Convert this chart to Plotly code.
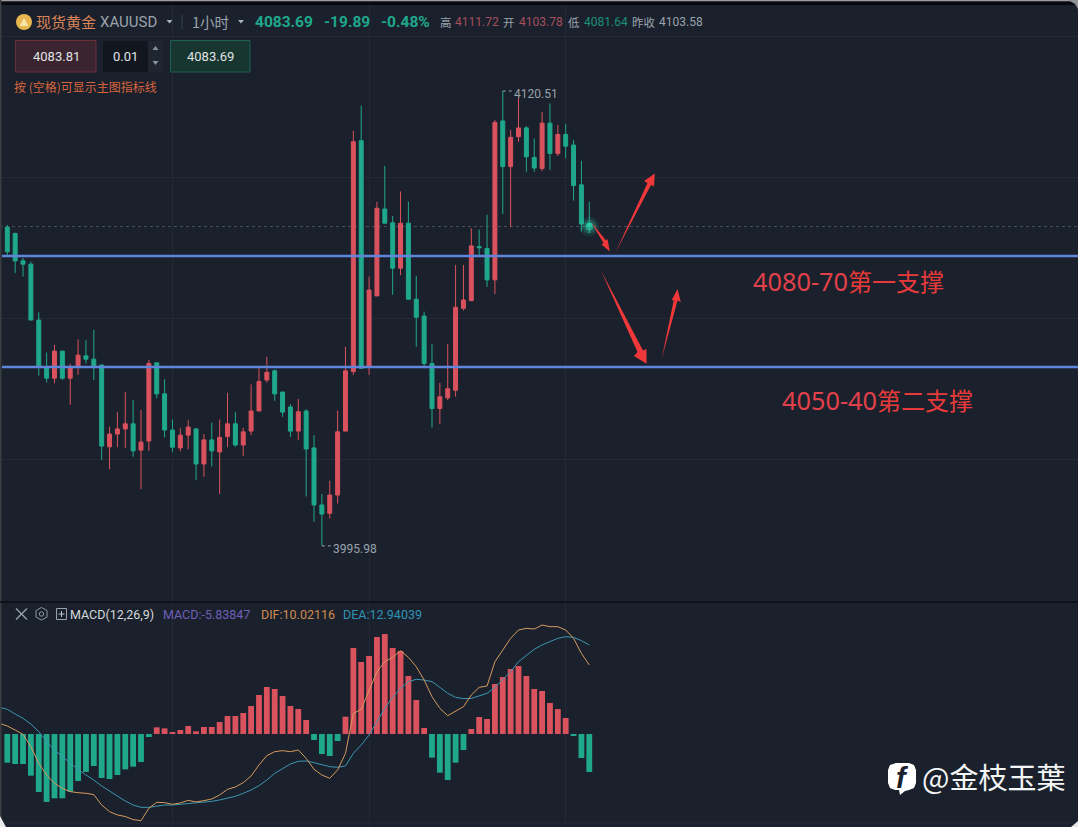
import plotly.graph_objects as go

W, H = 1078, 827
BG = "#1a212c"
RED = "#d9525e"
GREEN = "#1fa88c"
ORANGE = "#d79a5e"
BLUE = "#3c96b0"
GRID = "#232a36"
CJK = "Noto Sans CJK SC"
ROB = "Roboto, 'Noto Sans CJK SC'"

opens = [4083.2,4081.5,4074.0,4073.1,4057.8,4044.9,4041.9,4049.3,4041.9,4045.0,4048.0,4047.1,4045.5,4023.1,4026.6,4028.0,4029.4,4022.2,4024.7,4046.1,
4037.6,4027.7,4022.8,4026.3,4028.0,4018.4,4025.0,4021.7,4025.9,4029.4,4023.6,4027.4,4032.9,4041.4,4043.9,4038.1,4034.0,4027.4,4032.9,4022.8,
4007.2,4004.9,4009.9,4027.4,4043.7,4106.9,4045.0,4064.4,4088.2,4084.4,4072.0,4084.3,4063.5,4058.9,4045.9,4033.6,4036.5,4038.6,4061.0,4063.1,
4077.9,4077.4,4068.8,4112.3,4099.8,4108.0,4110.4,4102.3,4099.3,4111.7,4103.4,4108.6,4105.7,4094.8,4084.3]
closes = [4076.5,4074.0,4073.1,4057.8,4045.2,4041.9,4049.3,4041.9,4045.0,4048.2,4047.1,4045.0,4023.3,4026.6,4028.0,4029.4,4022.0,4024.4,4045.9,4037.6,
4027.7,4023.0,4026.3,4028.5,4018.4,4025.0,4022.0,4025.7,4029.4,4023.6,4027.2,4032.9,4041.0,4043.5,4037.6,4032.6,4027.4,4032.7,4022.5,4007.2,
4004.7,4009.9,4027.2,4043.9,4106.6,4044.6,4066.0,4088.4,4084.3,4072.0,4084.3,4063.5,4058.6,4045.9,4033.6,4036.8,4039.0,4061.3,4063.3,4078.1,
4077.6,4068.8,4111.9,4099.8,4107.8,4110.4,4102.5,4099.4,4111.7,4103.4,4108.6,4105.4,4094.6,4084.1,4083.4]
highs = [4083.8,4081.7,4074.8,4073.8,4059.9,4048.9,4051.0,4049.3,4045.9,4052.5,4052.3,4055.1,4045.5,4028.6,4032.6,4038.1,4035.9,4033.2,4046.9,4046.1,
4041.6,4030.6,4028.2,4030.4,4028.2,4026.6,4029.7,4030.6,4037.9,4032.7,4028.3,4040.2,4044.6,4047.8,4044.3,4038.1,4034.8,4036.2,4033.4,4026.3,
4010.2,4013.8,4033.0,4050.5,4109.6,4116.5,4069.7,4090.2,4100.0,4086.3,4093.0,4090.2,4069.9,4060.1,4051.2,4040.6,4051.2,4072.9,4072.9,4082.9,
4082.6,4086.6,4112.6,4120.5,4109.8,4118.6,4110.9,4107.5,4114.8,4117.1,4111.2,4111.5,4107.1,4101.4,4090.2]
lows = [4075.6,4070.7,4069.7,4057.8,4042.6,4040.7,4040.5,4041.4,4034.6,4042.8,4045.9,4041.4,4019.5,4017.0,4023.0,4022.8,4020.4,4011.5,4022.0,4036.4,
4025.7,4021.7,4021.9,4022.4,4014.0,4014.9,4017.7,4010.2,4023.0,4023.1,4020.6,4026.3,4032.9,4040.7,4035.7,4031.3,4025.8,4025.0,4009.5,4002.6,
3995.98,4003.5,4007.6,4027.4,4042.8,4044.6,4042.8,4064.4,4084.3,4064.7,4070.1,4063.5,4050.5,4044.6,4028.4,4029.4,4035.9,4036.8,4060.4,4063.1,
4075.6,4066.9,4064.9,4086.8,4083.2,4106.6,4098.4,4098.4,4098.6,4098.9,4102.7,4102.1,4090.5,4082.0,4081.6]

macd_hist = [-4.17,-4.36,-4.36,-6.06,-8.43,-9.88,-9.35,-9.35,-8.38,-6.83,-5.52,-4.65,-6.40,-6.54,-5.96,-5.14,-4.75,-4.07,-0.44,0.97,
0.82,0.29,0.58,1.16,0.39,1.02,1.02,1.74,2.62,2.62,3.05,4.07,5.67,6.83,6.54,5.52,4.07,3.63,2.03,-0.87,
-2.91,-3.20,-1.02,2.52,12.5,10.47,11.34,14.10,14.53,12.5,12.06,8.43,4.94,0.87,-3.44,-5.62,-6.69,-4.17,-2.33,0.73,
2.47,2.18,7.27,8.28,9.45,9.88,8.43,6.54,6.25,4.51,3.63,2.33,-0.29,-3.49,-5.52]
# DIF and DEA start one bar earlier, running in from the left edge
dif = [1.55,1.16,0.58,-0.05,-1.84,-4.26,-5.96,-7.17,-7.9,-8.38,-8.53,-8.62,-8.82,-10.32,-11.29,-11.77,-12.0,-12.45,-12.6,-10.8,-9.93,
-9.98,-10.22,-10.03,-9.64,-9.88,-9.69,-9.45,-8.87,-8.04,-7.7,-7.07,-6.1,-4.5,-3.15,-2.57,-2.42,-2.57,-2.33,-3.54,-5.14,
-5.96,-6.44,-5.23,-2.81,3.0,3.59,6.4,9.06,10.51,11.14,12.11,11.14,9.79,7.85,5.43,3.73,2.66,3.34,3.97,5.67,
6.78,6.98,10.51,12.21,13.91,15.12,15.36,15.26,15.84,15.6,15.6,15.12,13.91,11.72,10.03]
dea = [3.88,3.59,2.91,2.28,1.45,0.34,-1.11,-2.33,-3.29,-4.26,-5.14,-5.96,-6.69,-7.56,-8.28,-9.11,-9.74,-10.32,-10.66,-10.66,-10.47,
-10.32,-10.32,-10.22,-10.08,-9.98,-9.88,-9.79,-9.59,-9.35,-9.06,-8.62,-8.14,-7.51,-6.69,-5.72,-4.99,-4.36,-3.97,-3.92,-4.17,
-4.41,-4.75,-4.84,-4.65,-2.81,-1.6,-0.15,1.79,3.73,5.33,6.64,7.61,7.95,7.85,7.61,6.78,5.91,5.33,5.14,5.18,
5.52,5.91,6.78,7.85,9.06,10.51,11.48,12.31,12.94,13.42,13.91,14.15,14.05,13.57,12.94]

support_levels = [4075.33, 4044.95]
grid_prices = [4135.3, 4096.7, 4058.1, 4019.5]
grid_bars = [21, 46, 71]
last_price = 4083.4

idx = list(range(len(opens)))
line_idx = list(range(-1, len(opens)))
x_range = [-0.928, 136.14]
fig = go.Figure()
fig.add_trace(go.Candlestick(
    x=idx, open=opens, high=highs, low=lows, close=closes,
    increasing=dict(line=dict(color=RED, width=1), fillcolor=RED),
    decreasing=dict(line=dict(color=GREEN, width=1), fillcolor=GREEN),
    whiskerwidth=0, showlegend=False, xaxis="x", yaxis="y"))
# glow on the last price
for size, alpha in [(20, 0.10), (14, 0.22), (8, 0.55)]:
    fig.add_trace(go.Scatter(x=[idx[-1]], y=[last_price], mode="markers",
        marker=dict(size=size, color="#2fd6b0", opacity=alpha), showlegend=False))

fig.add_trace(go.Bar(x=idx, y=macd_hist, width=0.74,
    marker=dict(color=[RED if v > 0 else GREEN for v in macd_hist], line=dict(width=0)),
    showlegend=False, xaxis="x2", yaxis="y2"))
fig.add_trace(go.Scatter(x=line_idx, y=dea, mode="lines", line=dict(color=BLUE, width=1),
    showlegend=False, xaxis="x2", yaxis="y2"))
fig.add_trace(go.Scatter(x=line_idx, y=dif, mode="lines", line=dict(color=ORANGE, width=1),
    showlegend=False, xaxis="x2", yaxis="y2"))

def px(x): return x / W
def py(y): return 1 - y / H

shapes = []
def rect(x0, y0, x1, y1, fill, line=None):
    shapes.append(dict(type="rect", xref="paper", yref="paper", x0=px(x0), x1=px(x1), y0=py(y0), y1=py(y1),
                       fillcolor=fill, line=dict(color=line or fill, width=1 if line else 0), layer="above"))
def seg(x0, y0, x1, y1, color, w=1, dash=None):
    shapes.append(dict(type="line", xref="paper", yref="paper", x0=px(x0), x1=px(x1), y0=py(y0), y1=py(y1),
                       line=dict(color=color, width=w, dash=dash or "solid"), layer="above"))
def poly(points, fill, line=None):
    d = "M " + " L ".join(f"{px(a):.5f},{py(b):.5f}" for a, b in points) + " Z"
    shapes.append(dict(type="path", xref="paper", yref="paper", path=d, fillcolor=fill,
                       line=dict(color=line or fill, width=1 if line else 0), layer="above"))
def circ(cx, cy, r, fill, line=None):
    shapes.append(dict(type="circle", xref="paper", yref="paper", x0=px(cx-r), x1=px(cx+r), y0=py(cy+r), y1=py(cy-r),
                       fillcolor=fill, line=dict(color=line or fill, width=1 if line else 0), layer="above"))

# frame
rect(0, 0, W, 1.5, "#9a9da2")
rect(0, 1.5, W, 5, "#07090d")
rect(0, 0, 1.5, H, "#3a3d42")
seg(0, 602, W, 602, "#0a0d12", 1.5)
seg(0, 823, W, 823, "#232a36", 1)
poly([(1068, 0), (W, 0), (W, 9), (1075, 4)], "#8f9297")
poly([(0, 816), (6, 827), (0, 827)], "#e8e9ea")
poly([(1071, 827), (W, 821), (W, 827)], "#e8e9ea")
# support lines, last price line
for lv in support_levels:
    shapes.append(dict(type="line", xref="paper", yref="y", x0=px(2), x1=1, y0=lv, y1=lv,
                       line=dict(color="#5f86dc", width=2.4), layer="above"))
shapes.append(dict(type="line", xref="paper", yref="y", x0=0, x1=1, y0=last_price, y1=last_price,
                   line=dict(color="#485058", width=1, dash="dot"), layer="below"))
# high/low leaders
shapes.append(dict(type="line", xref="x", yref="y", x0=63, x1=64.3, y0=highs[63], y1=highs[63],
                   line=dict(color="#9aa3ad", width=1, dash="dot"), layer="above"))
shapes.append(dict(type="line", xref="x", yref="y", x0=40, x1=41.3, y0=lows[40], y1=lows[40],
                   line=dict(color="#9aa3ad", width=1, dash="dot"), layer="above"))

# header widgets
circ(24, 22, 8, "#e8b64c")
poly([(24, 18), (28.5, 26), (19.5, 26)], "#f7e3a8")
seg(182, 15, 182, 29, "#3a4250", 1)
poly([(166.5, 20), (172.5, 20), (169.5, 23.5)], "#aab2bc")
poly([(238, 20), (244, 20), (241, 23.5)], "#aab2bc")
rect(15.5, 40.5, 96, 72, "#3a2430", "#6a3039")
rect(103, 41, 163, 72, "#12161f")
rect(148, 41, 163, 72, "#20262f")
poly([(152.5, 50), (158.5, 50), (155.5, 46)], "#8a929c")
poly([(152.5, 61), (158.5, 61), (155.5, 65)], "#8a929c")
rect(170.5, 40.5, 250, 72, "#16362f", "#1f5f55")

# MACD pane icons
seg(16, 608.5, 27, 619.5, "#9aa3ad", 1.3)
seg(16, 619.5, 27, 608.5, "#9aa3ad", 1.3)
poly([(41.5, 607.5), (47, 610.5), (47, 617), (41.5, 620), (36, 617), (36, 610.5)], "rgba(0,0,0,0)", "#8f98a2")
circ(41.5, 614, 2.2, "rgba(0,0,0,0)", "#8f98a2")
rect(56.5, 608.5, 66.5, 619.5, "rgba(0,0,0,0)", "#9aa3ad")
seg(58.5, 614, 64.5, 614, "#c0c6cc", 1)
seg(61.5, 611, 61.5, 617, "#c0c6cc", 1)

# hand-drawn arrows
AR = "#f0383a"
poly([(591, 222), (606, 240.5), (607.5, 239), (609.8, 251.5), (601.5, 244.5), (603.5, 243)], AR)
poly([(615.5, 252.5), (647.5, 183), (644, 181), (654.8, 173.5), (654, 186.5), (651, 185)], AR)
poly([(600.5, 269.5), (637.5, 352), (634, 356), (646.5, 363.8), (646.5, 349), (643, 350.5)], AR)
poly([(661.5, 359.5), (673.8, 300), (671.5, 300.5), (677.5, 289), (680.8, 302), (677.5, 300.5)], AR)

# facebook badge
poly([(896, 763), (909, 763), (914, 765), (916, 770), (916, 783), (914, 788), (909, 790), (905, 791),
      (900, 795), (899, 790), (895, 790), (890, 788), (888, 783), (888, 770), (890, 765)], "#ffffff")

ann = []
def txt(x, y, s, size, color, font=ROB, anchor="left", bold=False):
    ann.append(dict(xref="paper", yref="paper", x=px(x), y=py(y), text=f"<b>{s}</b>" if bold else s,
                    showarrow=False, xanchor=anchor, yanchor="middle",
                    font=dict(size=size, color=color, family=font), borderpad=0, borderwidth=0))
GR = "#9aa3ad"
txt(36, 22, "现货黄金", 15, "#dd8458", CJK)
txt(100, 22, "XAUUSD", 15, GR)
txt(192, 22, "1小时", 14.5, GR, CJK)
txt(255, 22, "4083.69", 15.5, GREEN, bold=True)
txt(324, 22, "-19.89", 15.5, GREEN, bold=True)
txt(381, 22, "-0.48%", 15.5, GREEN, bold=True)
txt(440, 22, "高", 11.5, GR, CJK)
txt(455, 22, "4111.72", 12, "#a84f5f")
txt(503, 22, "开", 11.5, GR, CJK)
txt(519, 22, "4103.78", 12, "#a84f5f")
txt(568, 22, "低", 11.5, GR, CJK)
txt(584, 22, "4081.64", 12, "#1b8f79")
txt(632, 22, "昨收", 11.5, GR, CJK)
txt(659, 22, "4103.58", 12, GR)
txt(56, 57, "4083.81", 13, "#e0e3e6", anchor="center")
txt(125, 57, "0.01", 13, "#e0e3e6", anchor="center")
txt(210, 57, "4083.69", 13, "#e0e3e6", anchor="center")
txt(14, 86, "按 (空格)可显示主图指标线", 12, "#d8643c", CJK)
txt(514, 94, "4120.51", 12, GR)
txt(333, 549, "3995.98", 12, GR)
txt(753, 280.5, "4080-70", 25.3, "#e2404a", "Noto Sans")
txt(848, 280.5, "第一支撑", 24, "#e83a3a", CJK)
txt(782, 399.5, "4050-40", 25.3, "#e2404a", "Noto Sans")
txt(877, 399.5, "第二支撑", 24, "#e83a3a", CJK)
txt(70, 614, "MACD(12,26,9)", 12.5, "#d5d9dd")
txt(163, 614, "MACD:-5.83847", 12.5, "#6f5fb8")
txt(261, 614, "DIF:10.02116", 12.5, "#d08b4e")
txt(343, 614, "DEA:12.94039", 12.5, "#2f93b5")
txt(902, 778, "<b><i>f</i></b>", 29, BG, "Liberation Sans", anchor="center")
txt(922, 776, "@金枝玉葉", 29, "#f4f5f6", CJK)

split = (H - 602) / H
fig.update_layout(
    width=W, height=H, margin=dict(l=0, r=0, t=0, b=0),
    paper_bgcolor=BG, plot_bgcolor=BG, boxgap=0.28,
    hovermode=False, shapes=shapes, annotations=ann,
    xaxis=dict(domain=[0, 1], range=x_range, rangeslider=dict(visible=False), anchor="y",
               tickvals=grid_bars, showticklabels=False, ticks="", gridcolor=GRID, gridwidth=1, zeroline=False, showline=False),
    yaxis=dict(domain=[split, 1], range=[3980.63, 4145.4], anchor="x",
               tickvals=grid_prices, showticklabels=False, ticks="", gridcolor=GRID, gridwidth=1, zeroline=False, showline=False),
    xaxis2=dict(domain=[0, 1], range=x_range, anchor="y2",
                tickvals=grid_bars, showticklabels=False, ticks="", gridcolor=GRID, gridwidth=1, zeroline=False, showline=False),
    yaxis2=dict(domain=[0, split], range=[-13.52, 19.19], anchor="x2",
                showgrid=False, showticklabels=False, ticks="", zeroline=False, showline=False),
)
fig.write_html("out.html", config={"displayModeBar": False},
               post_script="document.body.style.margin='0';document.body.style.overflow='hidden';document.body.style.background='#1a212c';")
